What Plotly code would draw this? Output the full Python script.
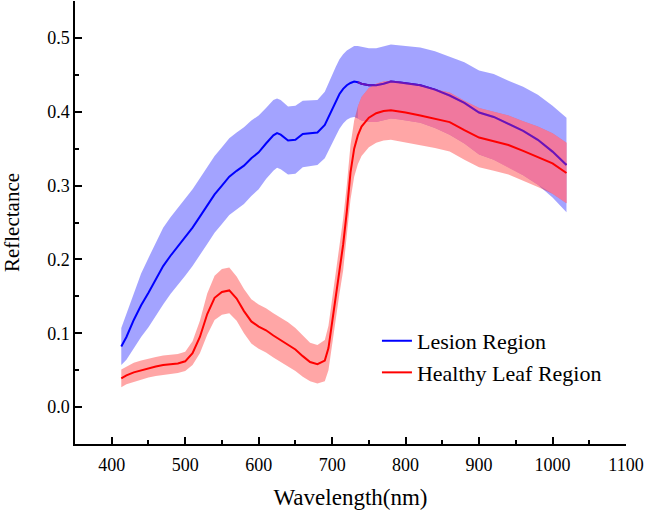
import numpy as np
import plotly.graph_objects as go

# Data

wavelength = [
    413, 420, 430, 440, 450, 460, 470, 480, 490, 500,
    510, 520, 530, 540, 550, 560, 570, 580, 590, 600,
    610, 620, 625, 630, 640, 650, 660, 670, 680, 690,
    695, 700, 705, 710, 715, 720, 725, 730, 735, 740,
    750, 760, 770, 780, 790, 800, 820, 840, 860, 880,
    900, 920, 940, 960, 980, 1000, 1019,
]

lesion_mean = [
    0.082, 0.095, 0.118, 0.138, 0.155, 0.173, 0.191, 0.205, 0.218, 0.230,
    0.243, 0.258, 0.273, 0.288, 0.300, 0.312, 0.320, 0.327, 0.337, 0.345,
    0.357, 0.368, 0.371, 0.369, 0.361, 0.362, 0.370, 0.371, 0.372, 0.382,
    0.392, 0.404, 0.414, 0.424, 0.431, 0.436, 0.439, 0.441, 0.440, 0.438,
    0.436, 0.436, 0.438, 0.441, 0.440, 0.439, 0.436, 0.430, 0.422, 0.412,
    0.399, 0.393, 0.383, 0.374, 0.362, 0.346, 0.328,
]

lesion_std = [
    0.025, 0.031, 0.038, 0.043, 0.047, 0.050, 0.052, 0.052, 0.052, 0.052,
    0.052, 0.052, 0.052, 0.052, 0.052, 0.052, 0.052, 0.052, 0.051, 0.050,
    0.048, 0.048, 0.047, 0.047, 0.046, 0.046, 0.045, 0.044, 0.044, 0.045,
    0.047, 0.047, 0.047, 0.047, 0.047, 0.047, 0.047, 0.048, 0.049, 0.050,
    0.050, 0.050, 0.050, 0.050, 0.050, 0.050, 0.051, 0.052, 0.053, 0.055,
    0.057, 0.058, 0.059, 0.060, 0.061, 0.062, 0.064,
]

healthy_mean = [
    0.039, 0.043, 0.047, 0.050, 0.053, 0.055, 0.057, 0.058, 0.059, 0.062,
    0.073, 0.095, 0.126, 0.148, 0.156, 0.158, 0.147, 0.130, 0.116, 0.109,
    0.104, 0.097, 0.094, 0.090, 0.085, 0.078, 0.069, 0.061, 0.058, 0.063,
    0.080, 0.115, 0.152, 0.188, 0.220, 0.265, 0.318, 0.350, 0.368, 0.380,
    0.392, 0.398, 0.401, 0.402, 0.401, 0.399, 0.395, 0.391, 0.386, 0.375,
    0.365, 0.360, 0.355, 0.347, 0.339, 0.330, 0.317,
]

healthy_std = [
    0.012, 0.012, 0.013, 0.013, 0.013, 0.013, 0.013, 0.013, 0.013, 0.013,
    0.016, 0.022, 0.028, 0.030, 0.031, 0.031, 0.030, 0.030, 0.030, 0.030,
    0.030, 0.030, 0.030, 0.030, 0.030, 0.029, 0.028, 0.026, 0.026, 0.028,
    0.030, 0.032, 0.033, 0.034, 0.035, 0.036, 0.037, 0.038, 0.039, 0.040,
    0.040, 0.040, 0.040, 0.040, 0.040, 0.040, 0.040, 0.040, 0.040, 0.040,
    0.040, 0.040, 0.040, 0.040, 0.041, 0.041, 0.041,
]

FONT = "Liberation Serif"

wl = np.array(wavelength, dtype=float)
les_m, les_s = np.array(lesion_mean), np.array(lesion_std)
hea_m, hea_s = np.array(healthy_mean), np.array(healthy_std)


def band_trace(x, lower, upper, color):
    return go.Scatter(
        x=np.concatenate([x, x[::-1]]),
        y=np.concatenate([upper, lower[::-1]]),
        fill="toself",
        fillcolor=color,
        line=dict(width=0),
        mode="lines",
        hoverinfo="skip",
        showlegend=False,
    )


# Region where both bands overlap (drawn pink on top)
ov_lo = np.maximum(les_m - les_s, hea_m - hea_s)
ov_hi = np.minimum(les_m + les_s, hea_m + hea_s)
mask = ov_hi > ov_lo

fig = go.Figure()
fig.add_trace(band_trace(wl, les_m - les_s, les_m + les_s, "rgba(0,0,255,0.36)"))
fig.add_trace(
    go.Scatter(
        x=wl, y=les_m, mode="lines",
        line=dict(color="#0000ff", width=2),
        name="Lesion Region",
    )
)
fig.add_trace(band_trace(wl, hea_m - hea_s, hea_m + hea_s, "rgba(255,0,0,0.35)"))
fig.add_trace(band_trace(wl[mask], ov_lo[mask], ov_hi[mask], "rgba(255,125,155,0.75)"))
# lesion mean seen through the red band looks purple
fig.add_trace(
    go.Scatter(
        x=wl[mask], y=les_m[mask], mode="lines",
        line=dict(color="rgb(105,20,185)", width=2),
        hoverinfo="skip",
        showlegend=False,
    )
)
fig.add_trace(
    go.Scatter(
        x=wl, y=hea_m, mode="lines",
        line=dict(color="#ff0000", width=2),
        name="Healthy Leaf Region",
    )
)

axis_common = dict(
    showline=True,
    linecolor="black",
    linewidth=1.5,
    ticks="inside",
    ticklen=7,
    tickwidth=1.5,
    tickcolor="black",
    showgrid=False,
    zeroline=False,
    tickfont=dict(family=FONT, size=18, color="black"),
    mirror=False,
)

fig.update_xaxes(
    range=[350, 1100],
    dtick=100,
    title=dict(text="Wavelength(nm)", font=dict(family=FONT, size=23, color="black"), standoff=16),
    minor=dict(ticks="inside", ticklen=4, tickwidth=1.5, tickcolor="black", dtick=50),
    ticklabelstandoff=4,
    **axis_common,
)
fig.update_yaxes(
    range=[-0.05, 0.55],
    dtick=0.1,
    tick0=0,
    tickformat=".1f",
    title=dict(text="Reflectance", font=dict(family=FONT, size=21, color="black"), standoff=22),
    minor=dict(ticks="inside", ticklen=4, tickwidth=1.5, tickcolor="black", dtick=0.05),
    ticklabelstandoff=0,
    **axis_common,
)

fig.update_layout(
    width=645,
    height=510,
    margin=dict(l=75, r=19, t=1, b=66),
    paper_bgcolor="white",
    plot_bgcolor="white",
    font=dict(family=FONT, color="black"),
    legend=dict(
        x=0.548,
        y=0.28,
        xanchor="left",
        yanchor="top",
        bgcolor="rgba(0,0,0,0)",
        font=dict(family=FONT, size=22, color="black"),
        tracegroupgap=0,
    ),
)

# drop the default 8px page margin so the figure sits at the window corner
fig.write_html(
    "out.html",
    config={"displayModeBar": False},
    post_script="document.body.style.margin='0px';",
)
